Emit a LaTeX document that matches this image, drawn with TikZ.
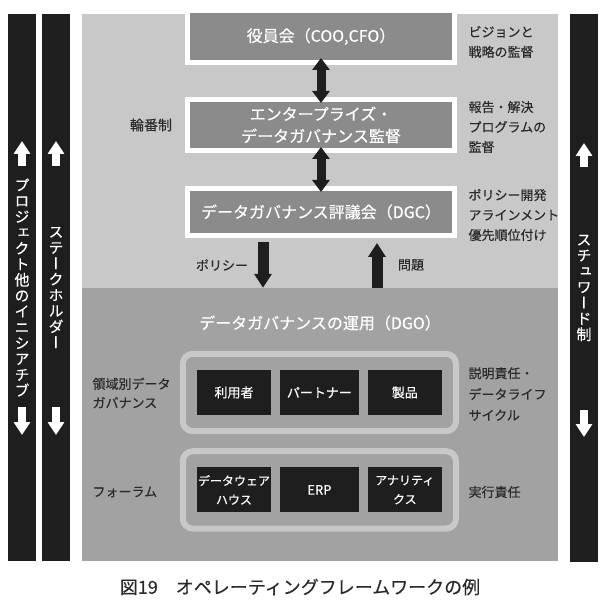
\documentclass[tikz,border=0pt]{standalone}
\usepackage{fontspec}
\setmainfont{Noto Sans CJK JP}[FakeBold=0.35]
\newfontfamily\vertjp{Noto Sans CJK JP}[RawFeature=+vert, FakeBold=0.35]
\usetikzlibrary{positioning,arrows.meta,fit}
\definecolor{panelhi}{HTML}{C8C8C8}
\definecolor{panello}{HTML}{A2A2A2}
\definecolor{boxgray}{HTML}{8B8B8B}
\definecolor{ink}{HTML}{1E1E1E}
\definecolor{labelink}{HTML}{2A2A2A}
\tikzset{
  panel/.style={minimum width=476pt, inner sep=0pt},
  govbox/.style={draw=white, line width=5pt, fill=boxgray, text=white, minimum width=267pt,
    align=center, font=\fontsize{16}{22}\selectfont},
  unit/.style={fill=ink, text=white, minimum width=74pt, minimum height=45pt, inner sep=0pt,
    align=center, font=\fontsize{13}{19}\selectfont},
  unitsmall/.style={unit, font=\fontsize{12}{19}\selectfont},
  group/.style={draw=panelhi, line width=6pt, rounded corners=10pt, inner xsep=14pt, inner ysep=16pt},
  note/.style={anchor=west, align=left, text=labelink, font=\fontsize{13}{20}\selectfont},
  sidebar/.style={fill=ink, minimum width=28pt, minimum height=547pt, inner sep=0pt},
  sidetext/.style={text=white, align=center, inner sep=0pt, font=\vertjp\fontsize{15}{15.8}\selectfont},
  barmark/.style={draw=white, line width=8pt, -{Triangle[length=13pt,width=16pt]}},
  flow/.style={draw=ink, line width=9pt, {Triangle[length=12pt,width=17pt]}-{Triangle[length=12pt,width=17pt]}},
  feed/.style={draw=ink, line width=11pt, -{Triangle[length=14pt,width=17pt]}}
}
\begin{document}
\begin{tikzpicture}[x=1pt,y=-1pt]
\useasboundingbox (0,0) rectangle (610,601);
\node[panel, fill=panelhi, minimum height=274pt] (gov) at (320,151) {};
\node[panel, fill=panello, minimum height=273pt] (ops) at (320,424.5) {};

\node[govbox, minimum height=52pt] (board) at (321,36.5) {役員会（COO,CFO）};
\node[govbox, minimum height=51pt] (eadg) [below=32pt of board] {エンタープライズ・\\データガバナンス監督};
\node[govbox, minimum height=47pt] (dgc) [below=33pt of eadg] {データガバナンス評議会（DGC）};
\draw[flow, shorten <=-7pt, shorten >=-6pt] (board.south) -- (eadg.north);
\draw[flow, shorten <=-6pt, shorten >=-6pt] (eadg.south) -- (dgc.north);
\draw[feed, shorten <=4pt] ([xshift=-58pt]dgc.south) -- ([xshift=-57pt]ops.north);
\draw[feed, shorten >=5pt] ([xshift=57pt]ops.north) -- ([xshift=56pt]dgc.south);

\node[note, anchor=center, font=\fontsize{14}{20}\selectfont] (rotation) at (151,125) {輪番制};
\node[note] (boardnote) at (465,42) {ビジョンと\\戦略の監督};
\node[note] (eadgnote) at (465,127) {報告・解決\\プログラムの\\監督};
\node[note] (dgcnote) at (465,215) {ポリシー開発\\アラインメント\\優先順位付け};
\node[note, anchor=center] (policy) at (222,265) {ポリシー};
\node[note, anchor=center] (issues) at (411,265) {問題};

\node[text=white, font=\fontsize{16}{22}\selectfont] (dgo) at (320,323) {データガバナンスの運用（DGO）};
\node[unit] (user) at (234,392.5) {利用者};
\node[unit, minimum width=79pt] (partner) [right=8.5pt of user] {パートナー};
\node[unit] (product) [right=8.5pt of partner] {製品};
\node[unitsmall] (warehouse) [below=52pt of user] {データウェア\\ハウス};
\node[unit, minimum width=79pt] (erp) [right=8.5pt of warehouse] {ERP};
\node[unitsmall] (analytics) [right=8.5pt of erp] {アナリティ\\クス};
\node[group, fit=(user)(product)] (domain) {};
\node[group, fit=(warehouse)(analytics)] (forum) {};

\node[note, font=\fontsize{13}{19}\selectfont] (domainlabel) at (89,393) {領域別データ\\ガバナンス};
\node[note] (forumlabel) at (89,492) {フォーラム};
\node[note, font=\fontsize{13}{21}\selectfont] (domainnote) at (465,394) {説明責任・\\データライフ\\サイクル};
\node[note] (forumnote) at (465,492) {実行責任};

\node[sidebar] (initbar) at (22,287.5) {};
\node[sidebar] (stakebar) at (56,287.5) {};
\node[sidebar, minimum height=548pt] (stewbar) at (584,288) {};
\node[sidetext] (inittext) at (initbar) {プ\\ロ\\ジ\\ェ\\ク\\ト\\他\\の\\イ\\ニ\\シ\\ア\\チ\\ブ};
\node[sidetext] (staketext) at (stakebar) {ス\\テ\\ー\\ク\\ホ\\ル\\ダ\\ー};
\node[sidetext] (stewtext) at (stewbar) {ス\\チ\\ュ\\ワ\\ー\\ド\\制};
\draw[barmark] (22,166) -- (22,141);
\draw[barmark] (22,407) -- (22,435);
\draw[barmark] (56,166) -- (56,141);
\draw[barmark] (56,407) -- (56,435);
\draw[barmark] (584,167) -- (584,143);
\draw[barmark] (584,410) -- (584,437);

\node[font=\fontsize{18}{22}\selectfont, text=labelink] (caption) at (300,587) {図19　オペレーティングフレームワークの例};
\end{tikzpicture}
\end{document}
